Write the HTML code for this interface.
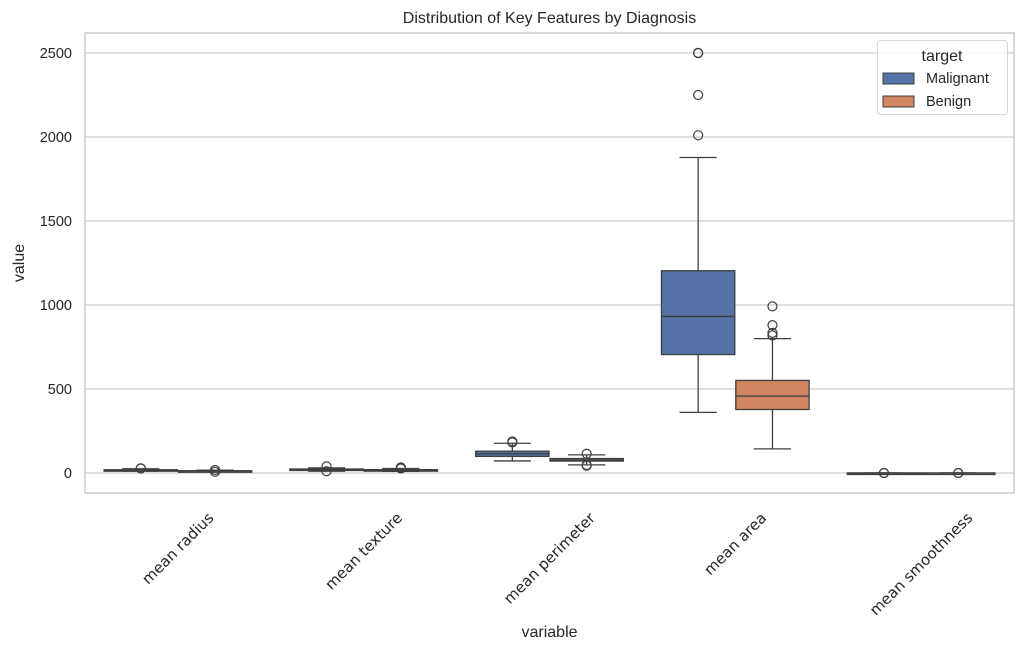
<!DOCTYPE html>
<html><head><meta charset="utf-8"><style>
body{margin:0;background:#fff;}
svg{font-family:"Liberation Sans","DejaVu Sans",sans-serif;}
</style></head><body>
<svg id="chart" width="1025" height="651"></svg>
<script>
const categories=["mean radius","mean texture","mean perimeter","mean area","mean smoothness"];
const groups=["Malignant","Benign"];
const colors=["#5573a6","#d08660"];
// [whiskerLow, q1, median, q3, whiskerHigh]
const malignantStats=[[11,15.1,17.3,19.6,25.2],[10.4,19.3,21.5,23.8,30],[71.9,98.7,114.2,129.9,177],[361,705,932,1204,1878],[0.07,0.095,0.102,0.11,0.14]];
const benignStats=[[7.7,11.1,12.2,13.4,17],[9.7,15.2,17.4,19.8,26.5],[48.3,70.9,78.2,86.1,108],[143.5,378,458,551,800],[0.06,0.085,0.091,0.1,0.13]];
const malignantOutliers=[[27,28],[39.3,10.2],[182,188],[2010,2250,2499,2501],[0.16,0.05]];
const benignOutliers=[[6.98,17.8],[27,30,33.8],[43.8,47.9,114.6],[819,834,880,992],[0.16,0.05]];
const yTicks=[0,500,1000,1500,2000,2500];
const L=85,R=1014,T=33,B=493;
const y=v=>473-v*0.168;
const bw=(R-L)/categories.length;
const cx=i=>L+bw*(i+0.5);
const svg=document.getElementById('chart');
const NS='http://www.w3.org/2000/svg';
function mk(tag,attrs,parent){const e=document.createElementNS(NS,tag);for(const k in attrs)e.setAttribute(k,attrs[k]);(parent||svg).appendChild(e);return e;}
let t=mk('text',{x:(L+R)/2,y:23,'text-anchor':'middle','font-size':16,fill:'#262626'});t.textContent='Distribution of Key Features by Diagnosis';


yTicks.forEach(v=>{
  const g=mk('line',{x1:L,x2:R,y1:y(v),y2:y(v),stroke:'#cccccc','stroke-width':1.2});
  
  
  const lb=mk('text',{x:L-13,y:y(v)+5,'text-anchor':'end','font-size':14.5,fill:'#262626'});lb.textContent=v;
  
  
});
const fr=mk('rect',{x:L,y:T,width:R-L,height:B-T,fill:'none',stroke:'#cccccc','stroke-width':1.5});


const half=bw*0.4;
[malignantStats,benignStats].forEach((stats,gi)=>{
  const outs=gi===0?malignantOutliers:benignOutliers;
  stats.forEach((s,i)=>{
    const x0=cx(i)-half+gi*half, xm=x0+half/2;
    const g=mk('g',{});
    
    
    mk('line',{x1:xm,x2:xm,y1:y(s[0]),y2:y(s[1]),stroke:'#3f3f3f','stroke-width':1.3},g);
    mk('line',{x1:xm,x2:xm,y1:y(s[3]),y2:y(s[4]),stroke:'#3f3f3f','stroke-width':1.3},g);
    mk('line',{x1:xm-half/4,x2:xm+half/4,y1:y(s[0]),y2:y(s[0]),stroke:'#3f3f3f','stroke-width':1.3},g);
    mk('line',{x1:xm-half/4,x2:xm+half/4,y1:y(s[4]),y2:y(s[4]),stroke:'#3f3f3f','stroke-width':1.3},g);
    const h=Math.max(y(s[1])-y(s[3]),1.5);
    mk('rect',{x:x0+0.5,y:y(s[3]),width:half-1,height:h,fill:colors[gi],stroke:'#3f3f3f','stroke-width':1.3},g);
    mk('line',{x1:x0+0.5,x2:x0+half-0.5,y1:y(s[2]),y2:y(s[2]),stroke:'#3f3f3f','stroke-width':1.3},g);
    outs[i].forEach(o=>{
      const c=mk('circle',{cx:xm,cy:y(o),r:4.5,fill:'none',stroke:'#3f3f3f','stroke-width':1.2},g);
      
      
    });
  });
});
categories.forEach((c,i)=>{
  const lb=mk('text',{x:0,y:0,'text-anchor':'middle','font-size':15,fill:'#262626','font-family':'"DejaVu Sans",sans-serif'});
  lb.textContent=c;
  
  
  const w=lb.getComputedTextLength(),hh=15;
  const half2=(w+hh)/Math.SQRT2/2;
  const x=cx(i),yc=B+17+half2;
  lb.setAttribute('x',x);lb.setAttribute('y',yc+5);
  lb.setAttribute('transform',`rotate(-45 ${x} ${yc})`);
});
let xt=mk('text',{x:(L+R)/2,y:637,'text-anchor':'middle','font-size':16,fill:'#262626'});xt.textContent='variable';


let yt=mk('text',{x:24,y:263,'text-anchor':'middle','font-size':16,fill:'#262626',transform:'rotate(-90 24 263)'});yt.textContent='value';


const lg=mk('g',{});


mk('rect',{x:877.5,y:40.5,width:130,height:74,rx:3,fill:'#ffffff','fill-opacity':0.85,stroke:'#d6d6d6'},lg);
let lt=mk('text',{x:942,y:61,'text-anchor':'middle','font-size':16,fill:'#262626'},lg);lt.textContent='target';
groups.forEach((gname,gi)=>{
  const yy=78+gi*23;
  const e=mk('g',{},lg);
  
  
  mk('rect',{x:883,y:yy-5,width:31,height:11,fill:colors[gi],stroke:'#3f3f3f','stroke-width':1},e);
  const tx=mk('text',{x:926,y:yy+5,'font-size':14.5,fill:'#262626'},e);tx.textContent=gname;
});
</script>
</body></html>
